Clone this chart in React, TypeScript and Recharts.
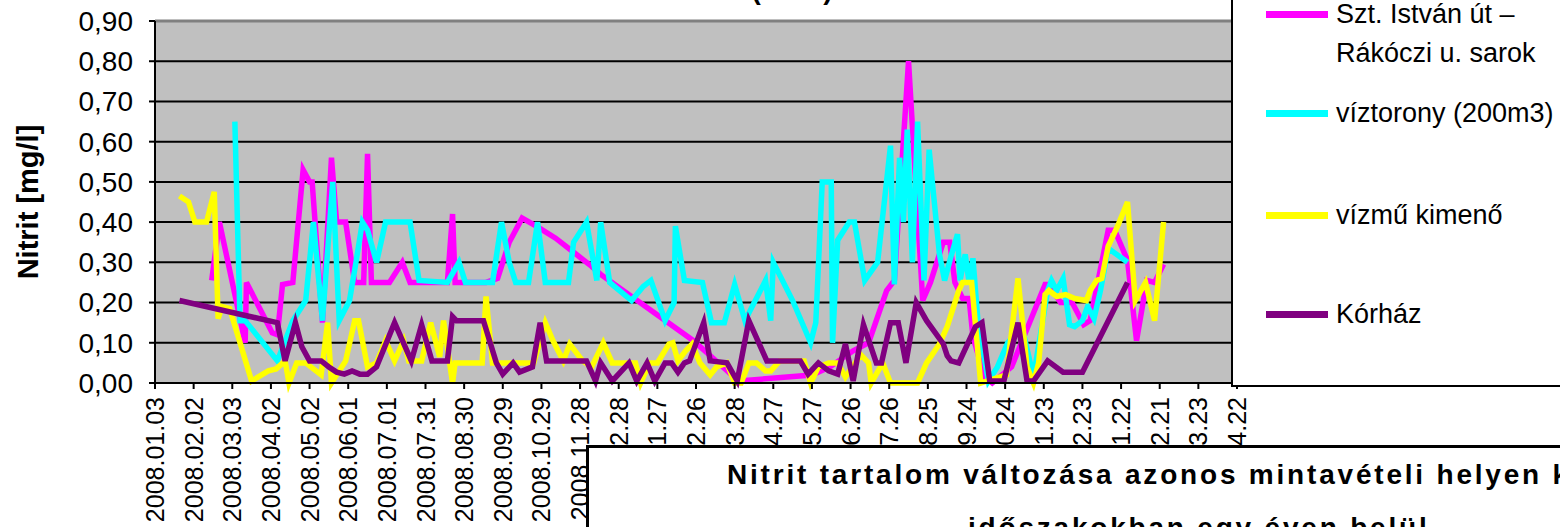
import { LineChart, Line, XAxis, YAxis, CartesianGrid, ReferenceLine } from 'recharts';

const FONT = '"Liberation Sans", Arial, sans-serif';

// x tick labels, one every 30 days starting 2008.01.03
const tickLabels = [
  '2008.01.03', '2008.02.02', '2008.03.03', '2008.04.02', '2008.05.02', '2008.06.01',
  '2008.07.01', '2008.07.31', '2008.08.30', '2008.09.29', '2008.10.29', '2008.11.28',
  '2008.12.28', '2009.01.27', '2009.02.26', '2009.03.28', '2009.04.27', '2009.05.27',
  '2009.06.26', '2009.07.26', '2009.08.25', '2009.09.24', '2009.10.24', '2009.11.23',
  '2009.12.23', '2010.01.22', '2010.02.21', '2010.03.23', '2010.04.22',
];
const yTicks = [0, 0.1, 0.2, 0.3, 0.4, 0.5, 0.6, 0.7, 0.8, 0.9];

// sampling days are counted from 2008.01.03
const sztDays = [44, 50, 70, 71, 91, 95, 99, 107, 115, 120, 122, 130, 137, 141, 148, 155, 162, 165, 168, 182, 192, 198, 227, 231, 233, 257, 266, 275, 285, 296, 311, 325, 339, 346, 418, 453, 510, 524, 542, 554, 568, 574, 585, 596, 602, 612, 617, 621, 627, 632, 635, 644, 650, 665, 691, 694, 703, 712, 721, 726, 740, 745, 755, 762, 770, 776, 783];
const sztValues = [0.255, 0.40, 0.10, 0.25, 0.125, 0.12, 0.245, 0.25, 0.53, 0.50, 0.50, 0.15, 0.56, 0.40, 0.40, 0.25, 0.25, 0.57, 0.25, 0.25, 0.30, 0.25, 0.25, 0.42, 0.25, 0.25, 0.26, 0.35, 0.41, 0.39, 0.36, 0.325, 0.29, 0.27, 0.105, 0.005, 0.02, 0.04, 0.08, 0.10, 0.23, 0.255, 0.80, 0.205, 0.25, 0.35, 0.35, 0.25, 0.21, 0.21, 0.115, 0.015, 0.0, 0.04, 0.245, 0.245, 0.20, 0.20, 0.145, 0.155, 0.38, 0.38, 0.305, 0.105, 0.255, 0.25, 0.295];

const toronyDays = [62, 66, 70, 95, 107, 117, 123, 130, 138, 143, 151, 156, 161, 165, 172, 179, 198, 205, 227, 236, 241, 262, 269, 275, 280, 290, 297, 303, 321, 325, 335, 343, 346, 353, 370, 379, 385, 396, 403, 404, 411, 425, 432, 442, 450, 458, 474, 478, 480, 495, 509, 513, 518, 525, 526, 530, 539, 543, 551, 561, 571, 574, 578, 581, 584, 588, 592, 597, 601, 609, 613, 618, 623, 625, 629, 632, 635, 639, 647, 654, 662, 673, 682, 693, 696, 700, 705, 710, 714, 720, 724, 729, 734, 740, 755];
const toronyValues = [0.65, 0.155, 0.155, 0.055, 0.155, 0.205, 0.40, 0.155, 0.50, 0.155, 0.205, 0.30, 0.40, 0.38, 0.30, 0.40, 0.40, 0.255, 0.25, 0.30, 0.25, 0.25, 0.40, 0.30, 0.25, 0.25, 0.40, 0.25, 0.25, 0.35, 0.40, 0.255, 0.40, 0.25, 0.205, 0.24, 0.255, 0.155, 0.20, 0.39, 0.255, 0.25, 0.15, 0.15, 0.245, 0.155, 0.255, 0.155, 0.30, 0.205, 0.10, 0.15, 0.50, 0.50, 0.10, 0.355, 0.40, 0.40, 0.255, 0.30, 0.59, 0.245, 0.56, 0.40, 0.63, 0.30, 0.65, 0.255, 0.58, 0.32, 0.255, 0.315, 0.37, 0.255, 0.32, 0.25, 0.31, 0.15, 0.005, 0.04, 0.10, 0.14, 0.015, 0.23, 0.255, 0.23, 0.26, 0.145, 0.14, 0.155, 0.19, 0.16, 0.23, 0.335, 0.30];

const kimenoDays = [19, 26, 31, 40, 46, 49, 52, 58, 75, 88, 94, 101, 104, 110, 117, 125, 129, 134, 137, 148, 155, 158, 165, 172, 179, 186, 193, 197, 207, 214, 221, 224, 231, 233, 254, 257, 262, 294, 303, 309, 317, 322, 332, 339, 345, 348, 355, 373, 377, 384, 390, 399, 402, 406, 412, 417, 423, 431, 436, 444, 450, 455, 461, 467, 474, 478, 485, 504, 509, 515, 523, 530, 536, 548, 554, 556, 565, 571, 592, 599, 609, 615, 624, 627, 634, 641, 661, 670, 677, 682, 686, 691, 694, 700, 707, 714, 723, 726, 731, 735, 740, 748, 755, 761, 769, 776, 783];
const kimenoValues = [0.465, 0.45, 0.40, 0.40, 0.475, 0.16, 0.19, 0.185, 0.005, 0.03, 0.035, 0.055, 0.0, 0.05, 0.05, 0.03, 0.02, 0.15, 0.0, 0.055, 0.155, 0.155, 0.04, 0.05, 0.105, 0.055, 0.105, 0.055, 0.055, 0.15, 0.065, 0.155, 0.0, 0.05, 0.05, 0.215, 0.05, 0.05, 0.15, 0.105, 0.055, 0.097, 0.055, 0.04, 0.08, 0.1, 0.05, 0.05, 0.0, 0.05, 0.05, 0.097, 0.1, 0.055, 0.08, 0.097, 0.05, 0.02, 0.04, 0.05, 0.0, 0.0, 0.05, 0.05, 0.03, 0.03, 0.055, 0.055, 0.0, 0.04, 0.05, 0.05, 0.015, 0.07, 0.05, 0.0, 0.05, 0.0, 0.0, 0.05, 0.097, 0.14, 0.23, 0.25, 0.25, 0.0, 0.02, 0.26, 0.04, 0.0, 0.05, 0.22, 0.23, 0.215, 0.22, 0.21, 0.205, 0.23, 0.255, 0.26, 0.34, 0.395, 0.45, 0.205, 0.25, 0.155, 0.40];

const korhazDays = [19, 95, 101, 109, 114, 120, 129, 135, 141, 147, 153, 159, 165, 172, 186, 199, 207, 215, 227, 231, 234, 255, 265, 270, 278, 283, 293, 299, 304, 335, 342, 346, 355, 368, 374, 382, 388, 396, 401, 406, 411, 415, 426, 431, 444, 452, 461, 475, 501, 507, 515, 523, 530, 536, 542, 550, 560, 564, 571, 577, 583, 591, 599, 612, 615, 618, 624, 637, 642, 648, 659, 670, 677, 682, 693, 705, 720, 755];
const korhazValues = [0.205, 0.15, 0.055, 0.15, 0.09, 0.055, 0.055, 0.04, 0.027, 0.022, 0.03, 0.022, 0.022, 0.04, 0.15, 0.055, 0.145, 0.055, 0.055, 0.165, 0.155, 0.155, 0.05, 0.022, 0.05, 0.027, 0.04, 0.15, 0.055, 0.055, 0.005, 0.05, 0.005, 0.05, 0.005, 0.05, 0.005, 0.05, 0.05, 0.027, 0.05, 0.055, 0.15, 0.055, 0.05, 0.005, 0.155, 0.055, 0.055, 0.022, 0.05, 0.03, 0.022, 0.097, 0.005, 0.145, 0.05, 0.05, 0.15, 0.15, 0.05, 0.20, 0.155, 0.097, 0.068, 0.055, 0.05, 0.14, 0.15, 0.005, 0.005, 0.15, 0.005, 0.005, 0.055, 0.027, 0.027, 0.25];

const series = [
  { name: 'Szt. István út –\nRákóczi u. sarok', color: '#FF00FF', days: sztDays, values: sztValues, legendY: 14 },
  { name: 'víztorony (200m3)', color: '#00FFFF', days: toronyDays, values: toronyValues, legendY: 113 },
  { name: 'vízmű kimenő', color: '#FFFF00', days: kimenoDays, values: kimenoValues, legendY: 215 },
  { name: 'Kórház', color: '#800080', days: korhazDays, values: korhazValues, legendY: 314 },
];

const XTick = ({ x, y, payload }: any) => (
  <g transform={`translate(${x},${y})`}>
    <text transform="rotate(-90)" x={-6} y={0} dy="0.36em" textAnchor="end" fontSize={25} fontFamily={FONT} fill="#000">
      {tickLabels[Math.round(payload.value / 30)]}
    </text>
  </g>
);

export default function App() {
  return (
    <div style={{ position: 'absolute', left: 0, top: 0, width: 1560, height: 527, overflow: 'hidden', background: '#fff', fontFamily: FONT }}>
      <LineChart width={1560} height={527} margin={{ top: 21, right: 323, left: 55, bottom: 44 }}>
        <CartesianGrid vertical={false} stroke="#000" strokeWidth={2} fill="#C0C0C0" fillOpacity={1} />
        <XAxis
          type="number"
          dataKey="day"
          domain={[0, 840]}
          ticks={tickLabels.map((_, i) => i * 30)}
          interval={0}
          height={100}
          tick={<XTick />}
          tickSize={6}
          tickMargin={2}
          axisLine={{ stroke: '#000', strokeWidth: 2 }}
          tickLine={{ stroke: '#000', strokeWidth: 2 }}
          allowDataOverflow
        />
        <YAxis
          type="number"
          domain={[0, 0.9]}
          ticks={yTicks}
          interval={0}
          width={100}
          tickFormatter={(v: number) => v.toFixed(2).replace('.', ',')}
          tick={{ fontSize: 28, fill: '#000', fontFamily: FONT }}
          tickSize={6}
          tickMargin={16}
          axisLine={{ stroke: '#000', strokeWidth: 2 }}
          tickLine={{ stroke: '#000', strokeWidth: 2 }}
        />
        <ReferenceLine y={0.9} stroke="#808080" strokeWidth={3} />
        {series.map((s) => (
          <Line
            key={s.name}
            data={s.days.map((d, i) => ({ day: d, v: s.values[i] }))}
            dataKey="v"
            name={s.name}
            type="linear"
            stroke={s.color}
            strokeWidth={5.5}
            dot={false}
            activeDot={false}
            isAnimationActive={false}
          />
        ))}
      </LineChart>

      {/* chart title, mostly above the visible area */}
      <div style={{ position: 'absolute', left: 792, top: -24, transform: 'translateX(-50%)', fontSize: 28, lineHeight: '28px', fontWeight: 'bold', whiteSpace: 'nowrap' }}>
        (2008)
      </div>

      {/* y axis title */}
      <div style={{ position: 'absolute', left: 28, top: 202, transform: 'translate(-50%, -50%) rotate(-90deg)', fontSize: 29, fontWeight: 'bold', whiteSpace: 'nowrap' }}>
        Nitrit [mg/l]
      </div>

      {/* legend */}
      <div style={{ position: 'absolute', left: 1231, top: -4, width: 400, height: 391, boxSizing: 'border-box', border: '2px solid #000', background: '#fff' }} />
      {series.map((s) => (
        <div key={s.name}>
          <div style={{ position: 'absolute', left: 1266, top: s.legendY - 3.5, width: 62, height: 7, background: s.color }} />
          <div style={{ position: 'absolute', left: 1336, top: s.legendY - 19.5, fontSize: 27, lineHeight: '39px', whiteSpace: 'pre', color: '#000' }}>
            {s.name}
          </div>
        </div>
      ))}

      {/* overlapping box of the next chart */}
      <div style={{ position: 'absolute', left: 586, top: 445, width: 1100, height: 200, boxSizing: 'border-box', border: '3px solid #000', background: '#fff' }} />
      <div style={{ position: 'absolute', left: 727, top: 475 - 20, fontSize: 28, lineHeight: '40px', fontWeight: 'bold', letterSpacing: 2.8, whiteSpace: 'nowrap' }}>
        Nitrit tartalom változása azonos mintavételi helyen különböző
      </div>
      <div style={{ position: 'absolute', left: 968, top: 528 - 20, fontSize: 28, lineHeight: '40px', fontWeight: 'bold', letterSpacing: 2.8, whiteSpace: 'nowrap' }}>
        időszakokban egy éven belül
      </div>
    </div>
  );
}
